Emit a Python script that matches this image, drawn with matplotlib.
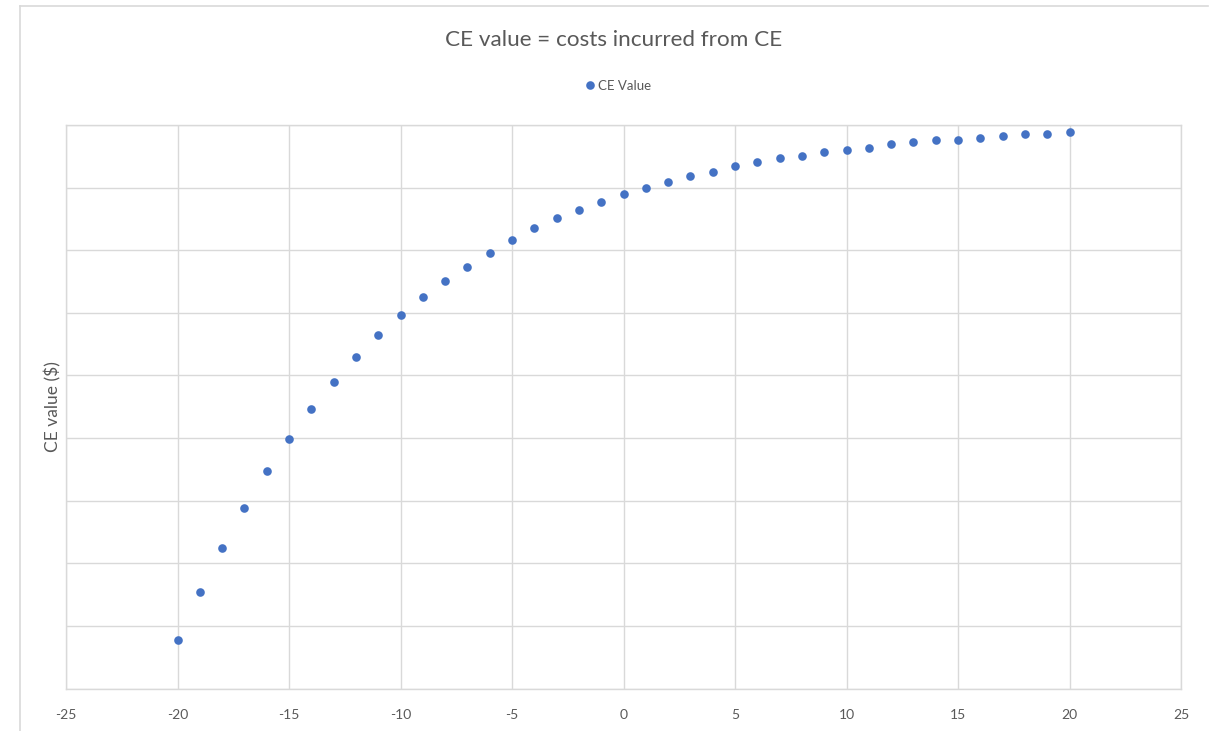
import matplotlib
matplotlib.use("Agg")
import matplotlib.pyplot as plt
from matplotlib.lines import Line2D

# Data: certainty-equivalent value against outcome offset
x_values = [-20, -19, -18, -17, -16, -15, -14, -13, -12, -11, -10,
            -9, -8, -7, -6, -5, -4, -3, -2, -1, 0,
            1, 2, 3, 4, 5, 6, 7, 8, 9, 10,
            11, 12, 13, 14, 15, 16, 17, 18, 19, 20]
ce_values = [0.77, 1.54, 2.24, 2.89, 3.47, 3.98, 4.46, 4.90, 5.30, 5.65, 5.97,
             6.26, 6.51, 6.74, 6.96, 7.16, 7.35, 7.51, 7.64, 7.77, 7.90,
             7.99, 8.09, 8.18, 8.25, 8.35, 8.41, 8.47, 8.50, 8.57, 8.60,
             8.63, 8.70, 8.73, 8.76, 8.76, 8.80, 8.83, 8.86, 8.86, 8.89]
x_ticks = [-25, -20, -15, -10, -5, 0, 5, 10, 15, 20, 25]
series_name = "CE Value"
title_text = "CE value = costs incurred from CE"
y_label = "CE value ($)"

W, H = 1215, 731
fig = plt.figure(figsize=(W / 100, H / 100), dpi=100)
fig.patch.set_facecolor("white")

text_color = "#595959"
grid_color = "#d9d9d9"
blue = "#4472C4"
font = ["Lato", "DejaVu Sans"]

# Outer chart frame (top and left edges)
fig.add_artist(Line2D([20 / W, 1208 / W], [1 - 6 / H, 1 - 6 / H],
                      transform=fig.transFigure, color=grid_color, lw=1.2))
fig.add_artist(Line2D([20 / W, 20 / W], [0, 1 - 6 / H],
                      transform=fig.transFigure, color=grid_color, lw=1.2))

left, right = 66 / W, 1181 / W
bottom, top = 1 - 688.5 / H, 1 - 125 / H
ax = fig.add_axes([left, bottom, right - left, top - bottom])

ax.plot(x_values, ce_values, linestyle="none", marker="o", ms=6.2,
        color=blue, markeredgewidth=0, label=series_name, zorder=3)

ax.set_xlim(-25, 25)
ax.set_ylim(0, 9)
ax.set_xticks(x_ticks)
ax.set_xticklabels([str(t) for t in x_ticks])
ax.set_yticks(range(0, 10))
ax.set_yticklabels([])
ax.grid(True, color=grid_color, lw=1.0)
ax.set_axisbelow(True)
for s in ax.spines.values():
    s.set_color(grid_color)
    s.set_linewidth(1.0)
ax.tick_params(axis="both", length=0, colors=text_color)
ax.tick_params(axis="x", pad=15)
for lab in ax.get_xticklabels():
    lab.set_fontfamily(font)
    lab.set_fontsize(10)
    lab.set_color(text_color)

ax.set_ylabel(y_label, fontsize=12.5, color=text_color, family=font)
ax.yaxis.set_label_coords((53 - 66) / (1181 - 66), 0.5)
ax.yaxis.label.set_va("center")

fig.text(614 / W, 1 - 40 / H, title_text, ha="center", va="center",
         fontsize=16.2, color=text_color, family=font)

leg = fig.legend(loc="center", bbox_to_anchor=(618 / W, 1 - 86 / H),
                 frameon=False, handletextpad=0.2, handlelength=0.8,
                 markerscale=1.0, prop={"family": font, "size": 9.5})
for t in leg.get_texts():
    t.set_color(text_color)

fig.savefig("out.png", dpi=100, facecolor="white")
